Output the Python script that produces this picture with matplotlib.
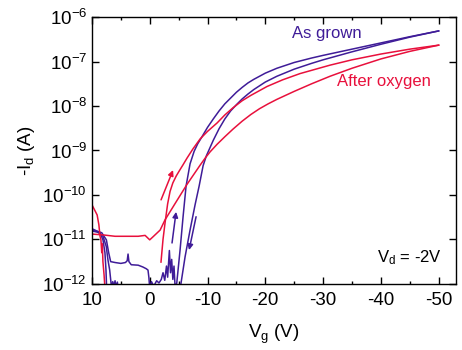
import numpy as np
import matplotlib
matplotlib.use("Agg")
import matplotlib.pyplot as plt

plt.rcParams['font.family'] = ['Liberation Sans', 'DejaVu Sans']
plt.rcParams['mathtext.fontset'] = 'custom'
plt.rcParams['mathtext.rm'] = 'Liberation Sans'
plt.rcParams['mathtext.it'] = 'Liberation Sans'
plt.rcParams['axes.unicode_minus'] = False

purple = '#3f1c98'
red = '#e8103c'

# as grown, trace 1 (flat ~3e-12 region, then early rise)
g1_V = [10, 9.0, 8.3, 7.5, 7.1, 6.76, 6.0, 5.0, 4.2, 3.9, 3.75, 3.6, 3.2, 2.0, 1.2, 0.6, 0.3, 0.15,
        0.0, -0.3, -0.7, -1.2, -1.6, -2.0, -2.3, -2.6, -2.9, -3.1, -3.4, -3.6, -3.8, -4.0, -4.2, -4.4,
        -4.68, -5.25, -5.77, -6.29, -6.98, -7.68, -8.3, -9, -10, -11, -12, -13, -14, -15, -16, -17, -18,
        -20, -22, -25, -28, -30, -35, -40, -45, -50]
g1_logI = [-10.80, -10.82, -10.85, -11.01, -11.30, -11.50, -11.52, -11.54, -11.52, -11.48, -11.33, -11.50, -11.57,
           -11.58, -11.62, -11.66, -11.69, -11.85,
           -12.10, -11.95, -12.05, -11.93, -11.98, -11.90, -11.75, -11.92, -11.60, -11.85, -11.25, -11.75, -11.45,
           -11.90, -11.60, -12.10,
           -11.98, -11.24, -10.49, -9.80, -9.30, -9.02, -8.85, -8.70, -8.48, -8.29, -8.11, -7.95, -7.82, -7.69,
           -7.58, -7.48, -7.40, -7.26, -7.15, -7.02, -6.92, -6.86, -6.72, -6.58, -6.44, -6.31]

# as grown, trace 2 (drops early, rises later)
g2_V = [10, 9.48, 8.61, 8.09, 7.75, 7.57, 7.4, 0, -5.0, -5.42, -6.12, -6.98, -7.85, -8.55, -9.24, -9.8,
        -10.45, -11, -12, -13, -14, -15, -16, -17, -18, -20, -22, -25, -28, -30, -35, -40, -45, -50]
g2_logI = [-10.76, -10.79, -10.85, -11.01, -11.30, -11.69, -12.3, -12.3, -12.3, -11.98, -11.39, -10.79, -10.22,
           -9.80, -9.34, -9.12, -8.93, -8.77, -8.51, -8.29, -8.11, -7.97, -7.84, -7.73, -7.63, -7.46, -7.33,
           -7.17, -7.04, -6.96, -6.78, -6.61, -6.45, -6.31]

# as grown, short trace at the left edge
g3_V = [10, 8.96, 8.09, 7.52, 7.23, 6.93, 6.6, 6.4, 6.2, 6.0, 5.8, 5.6, 5.4]
g3_logI = [-10.81, -10.84, -10.93, -11.16, -11.46, -11.69, -12.1, -11.95, -12.05, -11.93, -12.08, -11.96, -12.2]

# after oxygen, trace 1 (flat ~1e-11, then slow rise)
o1_V = [10, 8.0, 6.0, 4.0, 2.0, 0.8, 0.0, -0.5, -1.8, -2.65, -4.5, -6.46, -8.72, -9.6, -10.45, -11.66,
        -13, -14.4, -16, -17.5, -19, -20.5, -22, -25, -28, -31.2, -35, -40, -45, -50]
o1_logI = [-10.88, -10.90, -10.93, -10.93, -10.93, -10.91, -11.01, -10.95, -10.79, -10.56, -10.17, -9.76,
           -9.33, -9.17, -9.03, -8.86, -8.69, -8.52, -8.34, -8.19, -8.06, -7.95, -7.85, -7.67, -7.50, -7.33,
           -7.15, -6.94, -6.77, -6.63]

# after oxygen, trace 2 (steep rise from -2 V)
o2_V = [-1.95, -2.3, -2.65, -3.1, -3.52, -4.0, -4.6, -5.2, -5.77, -6.46, -7.5, -8.72, -10, -11.66, -13,
        -14.4, -16, -17.5, -20.3, -23, -26, -31.2, -35, -40, -45, -50]
o2_logI = [-11.51, -11.0, -10.63, -10.20, -9.92, -9.73, -9.57, -9.44, -9.32, -9.17, -8.96, -8.74, -8.57,
           -8.38, -8.20, -8.04, -7.88, -7.76, -7.56, -7.41, -7.27, -7.08, -6.96, -6.83, -6.72, -6.63]

# after oxygen, left edge drop
o3_V = [10, 9.1, 8.8, 8.6, 8.45, 8.3, 8.2, 8.1, 7.9, 7.7]
o3_logI = [-10.22, -10.45, -10.67, -10.93, -11.0, -11.3, -11.1, -11.5, -11.8, -12.2]

# sweep direction arrows (tail V, tail logI, head V, head logI)
red_arrow = [-1.96, -10.11, -4.04, -9.44]
purple_up = [-3.86, -11.08, -4.56, -10.38]
purple_down = [-8.02, -10.49, -6.81, -11.24]

fig = plt.figure(figsize=(4.62, 3.5), dpi=100)
ax = fig.add_axes([0.199, 0.189, 0.788, 0.762])

lw = 1.1
for V, L in [(g1_V, g1_logI), (g2_V, g2_logI), (g3_V, g3_logI)]:
    ax.plot(V, 10 ** np.array(L), color=purple, lw=lw)
for V, L in [(o1_V, o1_logI), (o2_V, o2_logI), (o3_V, o3_logI)]:
    ax.plot(V, 10 ** np.array(L), color=red, lw=lw)

for arr, c in [(red_arrow, red), (purple_up, purple), (purple_down, purple)]:
    ax.annotate('', xy=(arr[2], 10 ** arr[3]), xytext=(arr[0], 10 ** arr[1]),
                arrowprops=dict(arrowstyle='-|>', color=c, lw=1.1, mutation_scale=8,
                                shrinkA=0, shrinkB=0))

ax.set_yscale('log')
ax.set_xlim(10, -53)
ax.set_ylim(1e-12, 1e-6)

xt = [10, 0, -10, -20, -30, -40, -50]
ax.set_xticks(xt)
ax.set_xticklabels([str(v) for v in xt])
ax.set_xticks(np.arange(5, -55, -10), minor=True)
yt = [1e-12, 1e-11, 1e-10, 1e-9, 1e-8, 1e-7, 1e-6]
ax.set_yticks(yt)
ax.set_yticklabels([r'$10^{%d}$' % int(np.log10(v)) for v in yt])
ax.yaxis.set_minor_locator(matplotlib.ticker.NullLocator())

ax.tick_params(which='both', direction='in', top=True, right=True, labelsize=13.5, width=1.0)
ax.tick_params(which='major', length=5)
ax.tick_params(which='minor', length=2.5)
ax.tick_params(axis='x', pad=6)
for s in ax.spines.values():
    s.set_linewidth(1.0)

ax.set_xlabel(r'V$_\mathregular{g}$ (V)', fontsize=13.5, labelpad=10)
ax.set_ylabel(r'-I$_\mathregular{d}$ (A)', fontsize=13.5, labelpad=4)

ax.text(0.549, 0.94, 'As grown', color=purple, fontsize=12, transform=ax.transAxes, va='center')
ax.text(0.673, 0.758, 'After oxygen', color=red, fontsize=12, transform=ax.transAxes, va='center')
ax.text(0.784, 0.097, r'V$_\mathregular{d}$ = -2V', color='black', fontsize=12,
        transform=ax.transAxes, va='center')

fig.savefig('out.png', dpi=100)
